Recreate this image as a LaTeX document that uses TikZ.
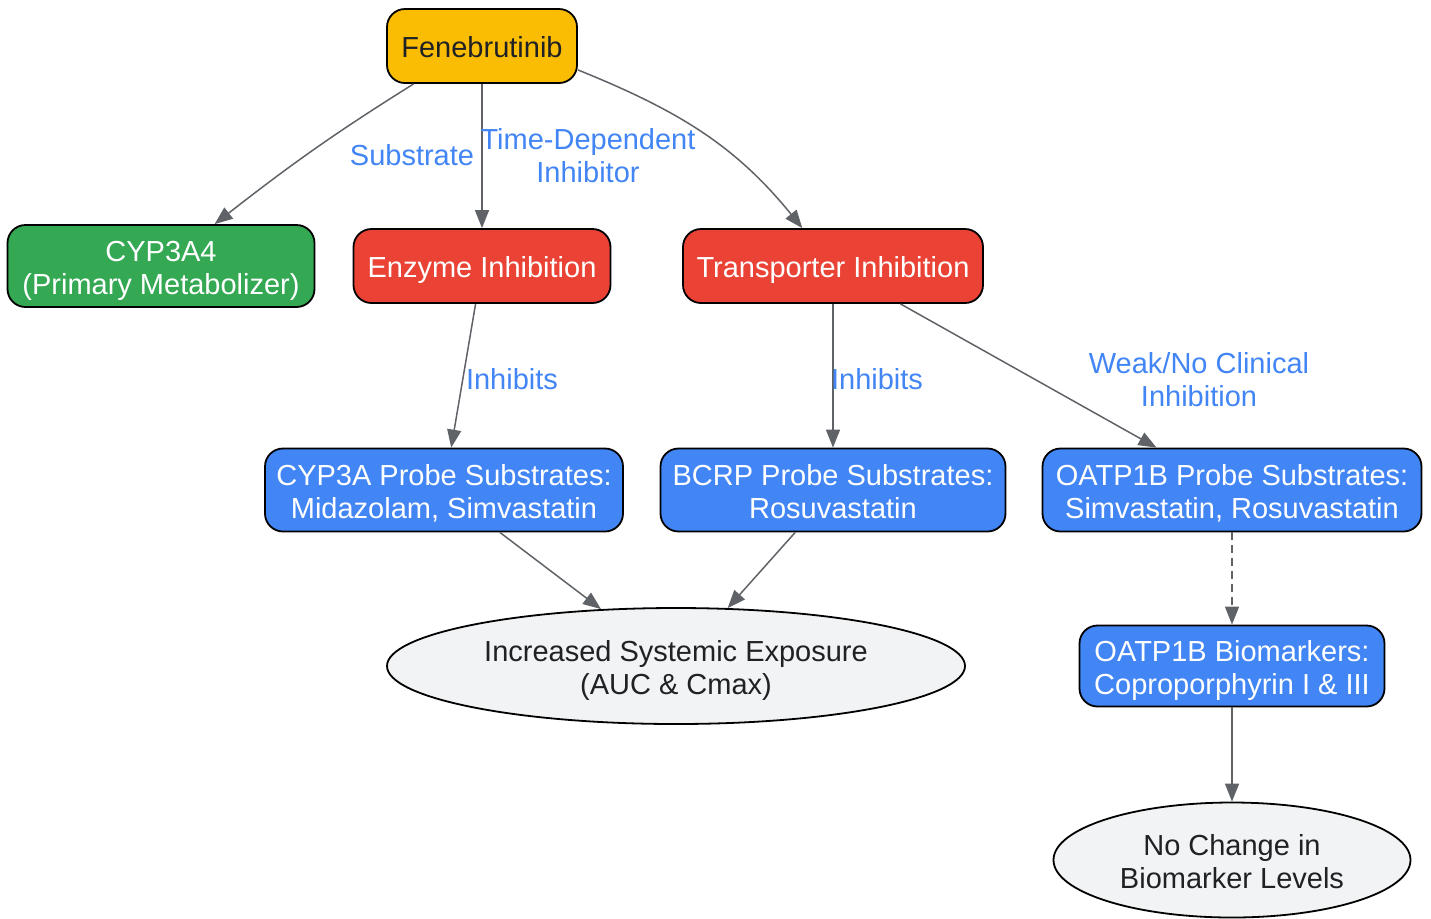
\documentclass[tikz,border=0pt]{standalone}
\usepackage{fontspec}
\setmainfont{Liberation Sans}
\usetikzlibrary{shapes, arrows.meta, positioning}

\definecolor{fenyellow}{HTML}{FBBC04}
\definecolor{cypgreen}{HTML}{34A853}
\definecolor{inhred}{HTML}{EA4335}
\definecolor{probeblue}{HTML}{4285F4}
\definecolor{outgray}{HTML}{F1F3F4}
\definecolor{edgegray}{HTML}{5F6368}
\definecolor{darktext}{HTML}{202124}

\begin{document}
\begin{tikzpicture}[x=0.5pt, y=-0.5pt,
    nodetext/.style={align=center, font=\fontsize{14.5}{16.5}\selectfont, text height=14.1pt, text depth=3.1pt},
    twoline/.style={text height=31.4pt},
    box/.style={nodetext, draw=black, line width=0.9pt, rounded corners=9pt, inner sep=0pt},
    outcome/.style={nodetext, twoline, ellipse, draw=black, line width=0.9pt, fill=outgray, text=darktext, inner sep=0pt},
    elabel/.style={text=probeblue, align=center, font=\fontsize{14.5}{16.5}\selectfont},
    link/.style={draw=edgegray, line width=0.75pt, -{Triangle[length=9pt, width=7pt]}}]
    \useasboundingbox (0,0) rectangle (1431,918);

    % Drug and first level
    \node[box, fill=fenyellow, text=darktext, minimum width=95pt, minimum height=37pt] (fen) at (482, 46) {Fenebrutinib};
    \node[box, twoline, fill=cypgreen, text=white, minimum width=153.5pt, minimum height=41pt] (cyp) at (161, 266) {CYP3A4\\(Primary Metabolizer)};
    \node[box, fill=inhred, text=white, minimum width=128.5pt, minimum height=37pt] (enz) at (482, 266) {Enzyme Inhibition};
    \node[box, fill=inhred, text=white, minimum width=150pt, minimum height=37pt] (trans) at (833, 266) {Transporter Inhibition};

    % Probe substrates
    \node[box, twoline, fill=probeblue, text=white, minimum width=179pt, minimum height=41.5pt] (cypsub) at (444, 490) {CYP3A Probe Substrates:\\Midazolam, Simvastatin};
    \node[box, twoline, fill=probeblue, text=white, minimum width=172.5pt, minimum height=41.5pt] (bcrp) at (833, 490) {BCRP Probe Substrates:\\Rosuvastatin};
    \node[box, twoline, fill=probeblue, text=white, minimum width=189.5pt, minimum height=41.5pt] (oatp) at (1232, 490) {OATP1B Probe Substrates:\\Simvastatin, Rosuvastatin};
    \node[box, twoline, fill=probeblue, text=white, minimum width=152.5pt, minimum height=40.5pt] (bio) at (1232, 666) {OATP1B Biomarkers:\\Coproporphyrin I \& III};

    % Outcomes
    \node[outcome, minimum width=289pt, minimum height=58pt] (expo) at (676, 666) {Increased Systemic Exposure\\(AUC \& Cmax)};
    \node[outcome, minimum width=178.5pt, minimum height=57.5pt] (nochg) at (1232, 860) {No Change in\\Biomarker Levels};

    % Edges
    \draw[link] (fen.209) to[out=212, in=38] (cyp);
    \draw[link] (fen) -- (enz);
    \draw[link] (fen.-14) to[out=-22, in=129] (trans);
    \draw[link] (enz) -- (cypsub);
    \draw[link] (trans) -- (bcrp);
    \draw[link] (trans) -- (oatp);
    \draw[link] (cypsub) -- (expo);
    \draw[link] (bcrp) -- (expo);
    \draw[link, dash pattern=on 4pt off 2.5pt] (oatp) -- (bio);
    \draw[link] (bio) -- (nochg);

    % Edge labels
    \node[elabel] (lsub) at (412, 155) {Substrate};
    \node[elabel] (ltdi) at (588, 156) {Time-Dependent\\Inhibitor};
    \node[elabel] (linh1) at (512, 379) {Inhibits};
    \node[elabel] (linh2) at (877, 379) {Inhibits};
    \node[elabel] (lweak) at (1199, 380) {Weak/No Clinical\\Inhibition};
\end{tikzpicture}
\end{document}
